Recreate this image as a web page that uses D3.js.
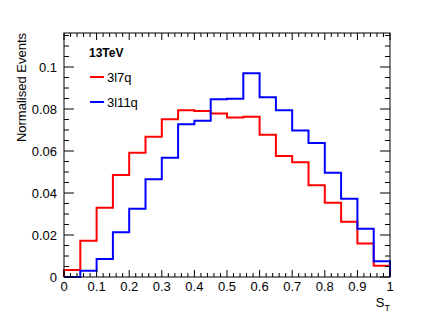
<!DOCTYPE html>
<html>
<head>
<meta charset="utf-8">
<script src="https://cdn.jsdelivr.net/npm/d3@7"></script>
<style>
  body { margin: 0; background: #fff; }
  text { font-family: "Liberation Sans", Arial, sans-serif; }
</style>
</head>
<body>
<script>
// bin edges of S_T, 20 bins of 0.05
var binEdges = [0, 0.05, 0.1, 0.15, 0.2, 0.25, 0.3, 0.35, 0.4, 0.45, 0.5,
                0.55, 0.6, 0.65, 0.7, 0.75, 0.8, 0.85, 0.9, 0.95, 1];
// normalised contents
var red3l7q = [0.0033, 0.0173, 0.0330, 0.0486, 0.0592, 0.0668, 0.0751, 0.0794, 0.0790, 0.0779,
               0.0759, 0.0763, 0.0678, 0.0576, 0.0546, 0.0437, 0.0354, 0.0263, 0.0160, 0.0054];
var blue3l11q = [0.0000, 0.0030, 0.0086, 0.0213, 0.0325, 0.0465, 0.0568, 0.0727, 0.0744, 0.0846,
                 0.0849, 0.0970, 0.0856, 0.0794, 0.0698, 0.0638, 0.0497, 0.0373, 0.0230, 0.0075];
var xTickLabels = ["0", "0.1", "0.2", "0.3", "0.4", "0.5", "0.6", "0.7", "0.8", "0.9", "1"];
var yTickLabels = ["0", "0.02", "0.04", "0.06", "0.08", "0.1"];

var width = 434, height = 327;
//frame edges (not "top": that name is taken by window.top)
var fLeft = 64, fRight = 390, fTop = 33, fBottom = 277;

var svg = d3.select("body").append("svg")
            .attr("width", width)
            .attr("height", height);

var x = d3.scaleLinear().domain([0, 1]).range([fLeft, fRight]);
var y = d3.scaleLinear().domain([0, 0.1162]).range([fBottom, fTop]);

//histogram outlines as steps
function stepLine(vals) {
  var pts = [[binEdges[0], 0]];
  vals.forEach(function (v, i) {
    pts.push([binEdges[i], v]);
    pts.push([binEdges[i + 1], v]);
  });
  pts.push([binEdges[binEdges.length - 1], 0]);
  return d3.line().x(function (d) { return x(d[0]); }).y(function (d) { return y(d[1]); })(pts);
}

var series = [
  {name: "3l7q", vals: red3l7q, color: "#ff0000"},
  {name: "3l11q", vals: blue3l11q, color: "#0000ff"}
];

svg.selectAll("path.hist").data(series).enter().append("path")
   .attr("class", "hist")
   .attr("d", function (d) { return stepLine(d.vals); })
   .attr("fill", "none")
   .attr("stroke", function (d) { return d.color; })
   .attr("stroke-width", 2);

//ticks on all four sides, pointing inward
var xMinor = d3.range(0, 51).map(function (i) { return i * 0.02; });
var yMinor = d3.range(0, 24).map(function (i) { return i * 0.005; });

var tickG = svg.append("g").attr("stroke", "#000").attr("stroke-width", 1);
xMinor.forEach(function (v) {
  var major = Math.abs(v * 10 - Math.round(v * 10)) < 1e-6;
  var len = major ? 7 : 4;
  tickG.append("line").attr("x1", x(v)).attr("x2", x(v)).attr("y1", fBottom).attr("y2", fBottom - len);
  tickG.append("line").attr("x1", x(v)).attr("x2", x(v)).attr("y1", fTop).attr("y2", fTop + len);
});
yMinor.forEach(function (v) {
  if (y(v) < fTop) return;
  var major = Math.abs(v * 50 - Math.round(v * 50)) < 1e-6;
  var len = major ? 10 : 5;
  tickG.append("line").attr("x1", fLeft).attr("x2", fLeft + len).attr("y1", y(v)).attr("y2", y(v));
  tickG.append("line").attr("x1", fRight).attr("x2", fRight - len).attr("y1", y(v)).attr("y2", y(v));
});

svg.append("rect")
   .attr("x", fLeft).attr("y", fTop)
   .attr("width", fRight - fLeft).attr("height", fBottom - fTop)
   .attr("fill", "none").attr("stroke", "#000").attr("stroke-width", 1);

svg.selectAll("text.xl").data(xTickLabels).enter().append("text")
   .attr("class", "xl")
   .attr("x", function (d) { return x(+d); })
   .attr("y", 291)
   .attr("text-anchor", "middle")
   .attr("font-size", 13)
   .text(function (d) { return d; });

svg.selectAll("text.yl").data(yTickLabels).enter().append("text")
   .attr("class", "yl")
   .attr("x", 57)
   .attr("y", function (d) { return y(+d) + 5; })
   .attr("text-anchor", "end")
   .attr("font-size", 13)
   .text(function (d) { return d; });

//axis titles
svg.append("text")
   .attr("transform", "translate(26," + fTop + ") rotate(-90)")
   .attr("text-anchor", "end")
   .attr("font-size", 13)
   .text("Normalised Events");

var xt = svg.append("text")
   .attr("x", fRight)
   .attr("y", 307)
   .attr("text-anchor", "end")
   .attr("font-size", 13);
xt.append("tspan").text("S");
xt.append("tspan").attr("font-size", 9).attr("dy", 4).text("T");

//legend
svg.append("text")
   .attr("x", 89).attr("y", 57)
   .attr("font-size", 12).attr("font-weight", "bold")
   .text("13TeV");

var leg = svg.selectAll("g.leg").data(series).enter().append("g")
   .attr("class", "leg")
   .attr("transform", function (d, i) { return "translate(0," + (77 + i * 25) + ")"; });
leg.append("line")
   .attr("x1", 90).attr("x2", 104)
   .attr("stroke", function (d) { return d.color; })
   .attr("stroke-width", 2);
leg.append("text")
   .attr("x", 107).attr("y", 5)
   .attr("font-size", 13)
   .text(function (d) { return d.name; });
</script>
</body>
</html>
